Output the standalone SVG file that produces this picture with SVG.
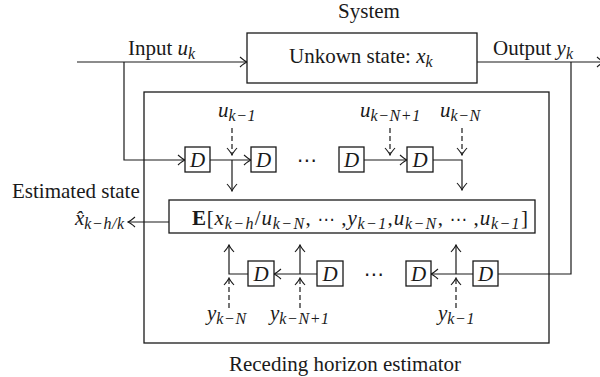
<svg xmlns="http://www.w3.org/2000/svg" width="600" height="377" viewBox="0 0 600 377">
<style>
.t{font-family:"Liberation Serif","Times New Roman",serif;font-size:21px;fill:#1a1a1a}
.i{font-style:italic}
.s{font-style:italic;font-size:16px;letter-spacing:0.6px}
.b{font-weight:bold}
.dt{font-family:"DejaVu Sans",sans-serif;font-style:normal;font-size:17px}
.dots{font-family:"DejaVu Sans",sans-serif;font-size:20px;fill:#1a1a1a}
.ln{stroke:#1a1a1a;stroke-width:1.2;fill:none}
.ds{stroke:#1a1a1a;stroke-width:1.2;fill:none;stroke-dasharray:5 3}
.bx{fill:#fff;stroke:#1a1a1a;stroke-width:1.3}
</style>
<defs>
<marker id="ah" markerUnits="userSpaceOnUse" viewBox="-9 -6 10 12" markerWidth="10" markerHeight="12" refX="0" refY="0" orient="auto">
<path d="M-7,-5 Q-2.5,-1 0,0 Q-2.5,1 -7,5" fill="none" stroke="#1a1a1a" stroke-width="1.1"/>
</marker>
</defs>
<rect width="600" height="377" fill="#fff"/>

<g id="estimator">
<rect class="bx" x="144" y="92" width="405" height="251" fill="none"/>
<text class="t" x="345" y="371" text-anchor="middle">Receding horizon estimator</text>
</g>

<g id="connectors">
<path class="ln" d="M77,62 H247" marker-end="url(#ah)"/>
<path class="ln" d="M124,62 V160 H185" marker-end="url(#ah)"/>
<path class="ln" d="M210,160 H251" marker-end="url(#ah)"/>
<path class="ln" d="M232,160 V191" marker-end="url(#ah)"/>
<path class="ds" d="M232,128 V155" marker-end="url(#ah)"/>
<path class="ln" d="M364,160 H407" marker-end="url(#ah)"/>
<path class="ds" d="M390,128 V155" marker-end="url(#ah)"/>
<path class="ln" d="M433,160 H462 V190" marker-end="url(#ah)"/>
<path class="ds" d="M462,128 V155" marker-end="url(#ah)"/>
<path class="ln" d="M169,222 H128" marker-end="url(#ah)"/>
<path class="ln" d="M477,62 H604" marker-end="url(#ah)"/>
<path class="ln" d="M571,62 V274 H498"/>
<path class="ln" d="M473,274 H431" marker-end="url(#ah)"/>
<path class="ln" d="M456,274 V245" marker-end="url(#ah)"/>
<path class="ds" d="M456,308 V278" marker-end="url(#ah)"/>
<path class="ln" d="M317,274 H274" marker-end="url(#ah)"/>
<path class="ln" d="M300,274 V245" marker-end="url(#ah)"/>
<path class="ds" d="M300,308 V278" marker-end="url(#ah)"/>
<path class="ln" d="M248,274 H229 V245" marker-end="url(#ah)"/>
<path class="ds" d="M229,308 V278" marker-end="url(#ah)"/>
</g>

<g id="system">
<rect class="bx" x="247" y="33" width="230" height="50"/>
<text class="t" x="369" y="18" text-anchor="middle">System</text>
<text class="t" x="289" y="63">Unkown state: <tspan class="i">x</tspan><tspan class="s" dy="4">k</tspan></text>
</g>

<g id="input-label">
<text class="t" x="128" y="55">Input <tspan class="i">u</tspan><tspan class="s" dy="4">k</tspan></text>
</g>
<g id="output-label">
<text class="t" x="493" y="55">Output <tspan class="i">y</tspan><tspan class="s" dy="4">k</tspan></text>
</g>
<g id="estimated-label">
<text class="t" x="12" y="198">Estimated state</text>
<text class="t" x="75" y="225"><tspan class="i">x̂</tspan><tspan class="s" dy="4">k−h/k</tspan></text>
</g>

<g id="d1"><rect class="bx" x="185" y="147" width="25" height="25"/><text class="t i" x="197.5" y="167" text-anchor="middle">D</text></g>
<g id="d2"><rect class="bx" x="251" y="147" width="25" height="25"/><text class="t i" x="263.5" y="167" text-anchor="middle">D</text></g>
<text class="dots" x="307" y="167" text-anchor="middle">⋯</text>
<g id="d3"><rect class="bx" x="339" y="147" width="25" height="25"/><text class="t i" x="351.5" y="167" text-anchor="middle">D</text></g>
<g id="d4"><rect class="bx" x="407" y="147" width="26" height="25"/><text class="t i" x="420" y="167" text-anchor="middle">D</text></g>

<g id="u-labels">
<text class="t" x="218" y="117"><tspan class="i">u</tspan><tspan class="s" dy="4">k−1</tspan></text>
<text class="t" x="360" y="117"><tspan class="i">u</tspan><tspan class="s" dy="4">k−N+1</tspan></text>
<text class="t" x="440" y="117"><tspan class="i">u</tspan><tspan class="s" dy="4">k−N</tspan></text>
</g>

<g id="expectation">
<rect class="bx" x="169" y="200" width="366" height="33"/>
<text class="t" x="192" y="225" textLength="336" lengthAdjust="spacing"><tspan class="b">E</tspan>[<tspan class="i">x</tspan><tspan class="s" dy="4">k−h</tspan><tspan dy="-4">/</tspan><tspan class="i">u</tspan><tspan class="s" dy="4">k−N</tspan><tspan dy="-4">, </tspan><tspan class="dt">⋯</tspan> ,<tspan class="i">y</tspan><tspan class="s" dy="4">k−1</tspan><tspan dy="-4">,</tspan><tspan class="i">u</tspan><tspan class="s" dy="4">k−N</tspan><tspan dy="-4">, </tspan><tspan class="dt">⋯</tspan> ,<tspan class="i">u</tspan><tspan class="s" dy="4">k−1</tspan><tspan dy="-4">]</tspan></text>
</g>

<g id="d5"><rect class="bx" x="248" y="261" width="26" height="25"/><text class="t i" x="261" y="281" text-anchor="middle">D</text></g>
<g id="d6"><rect class="bx" x="317" y="261" width="26" height="25"/><text class="t i" x="330" y="281" text-anchor="middle">D</text></g>
<text class="dots" x="374" y="281" text-anchor="middle">⋯</text>
<g id="d7"><rect class="bx" x="406" y="261" width="25" height="25"/><text class="t i" x="418.5" y="281" text-anchor="middle">D</text></g>
<g id="d8"><rect class="bx" x="473" y="261" width="25" height="25"/><text class="t i" x="485.5" y="281" text-anchor="middle">D</text></g>

<g id="y-labels">
<text class="t" x="207" y="320"><tspan class="i">y</tspan><tspan class="s" dy="4">k−N</tspan></text>
<text class="t" x="270" y="320"><tspan class="i">y</tspan><tspan class="s" dy="4">k−N+1</tspan></text>
<text class="t" x="438" y="320"><tspan class="i">y</tspan><tspan class="s" dy="4">k−1</tspan></text>
</g>
</svg>
